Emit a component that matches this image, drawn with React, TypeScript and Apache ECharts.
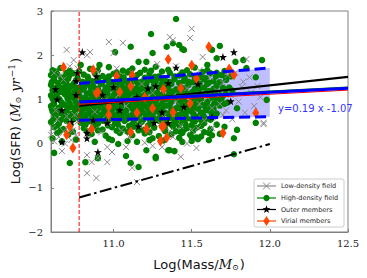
import React, { useEffect, useRef } from 'react';
import * as echarts from 'echarts';

// ---------- data ----------
const lowDensity: [number, number][] = [
  [10.70, 2.12], [10.745, 1.89], [10.85, 2.07], [10.83, 2.0], [10.97, 2.3], [11.06, 2.28], [11.0, 2.05],
  [11.36, 2.41], [11.38, 2.34], [11.49, 2.39], [11.5, 2.6], [11.85, 1.91], [11.87, 1.5], [11.82, 1.28],
  [11.96, 0.44], [11.63, 0.35], [11.63, 0.8], [11.7, 0.65], [11.57, 1.96],
  [10.67, -0.17], [10.83, -0.67], [10.89, -0.78], [10.86, -0.42], [10.9, -0.33], [10.96, -0.42],
  [10.96, -0.08], [10.99, -0.19], [11.08, -0.08], [10.83, -0.26], [11.54, 0.35], [11.53, -0.1],
  [11.47, 0.0], [11.43, -0.3], [11.96, 0.47], [11.31, -0.08], [11.38, 0.15], [11.15, -0.87],
  [11.12, -0.55], [11.25, -0.05], [11.2, 0.02],
  [10.62, 0.05], [10.65, 0.15], [10.68, 0.28], [10.61, 0.35], [10.71, 0.42], [10.74, 0.3], [10.64, 0.55],
  [10.7, 0.62], [10.77, 0.5], [10.63, 0.75], [10.76, 0.2], [10.73, 0.08], [10.66, 1.55], [10.72, 1.75],
  [10.77, 1.7], [10.62, 1.6], [10.68, 1.45], [10.6, 0.2], [10.69, 0.0], [10.75, 0.65],
  [10.84, 0.3], [10.92, 0.25], [10.97, 0.45], [11.05, 0.3], [11.1, 0.15], [11.17, 0.42], [11.22, 0.28],
  [11.3, 0.45], [11.36, 0.28], [11.43, 0.4], [11.5, 0.3], [11.58, 0.52], [10.9, 1.62], [11.02, 1.7],
  [11.12, 1.6], [11.28, 1.8], [11.4, 1.75], [11.55, 1.66], [11.62, 1.5], [11.7, 1.38], [11.75, 1.1],
  [11.8, 0.95], [11.72, 0.75], [11.66, 1.2], [11.78, 1.6], [11.88, 1.15], [11.92, 1.3], [11.84, 0.7],
  [11.9, 0.85], [11.76, 0.55], [11.94, 1.05], [10.95, 1.0], [11.08, 0.85], [11.25, 1.15], [11.4, 0.95],
  [11.55, 0.9], [11.18, 1.35], [11.32, 0.62], [10.88, 0.72], [11.0, 1.25], [11.47, 1.25], [11.6, 1.05],
  [11.68, 0.9], [11.83, 1.4], [11.73, 1.55],
];

const highDensity: [number, number][] = [
  [11.40, 2.82], [11.24, 2.48], [11.11, 2.19], [11.25, 2.05], [11.44, 2.14], [11.38, 2.27], [11.34, 2.19],
  [11.16, 1.85], [11.21, 1.85], [10.79, 1.78], [10.91, 1.78], [11.01, 2.07], [11.68, 2.21], [11.63, 2.12],
  [11.83, 1.89], [11.95, 1.89], [11.85, 1.71], [11.91, 1.5], [11.98, 0.99], [11.79, 0.8], [11.91, 0.47],
  [11.61, 0.24], [11.44, 0.24], [11.66, 1.93], [11.6, 1.78], [11.42, 2.23], [11.45, 2.12], [11.78, 1.85],
  [10.62, -0.21], [10.72, -0.44], [10.82, -0.42], [10.88, 0.04], [10.99, 0.08], [11.08, -0.28],
  [11.03, -0.01], [10.9, -0.33], [11.11, -0.44], [11.16, -0.53], [11.27, -0.33], [11.21, -0.15],
  [11.15, 0.04], [11.23, 0.08], [11.35, -0.15], [11.39, -0.17], [11.44, 0.04], [11.5, 0.06], [11.5, 0.15],
  [11.54, 0.1], [11.58, 0.26], [11.61, 0.08], [11.63, 0.19], [11.77, 0.12], [11.79, 0.31], [11.77, -0.24],
  [11.47, 0.35], [11.4, 0.28], [11.27, -0.3], [11.36, -0.15],
  [10.61, 1.66], [10.66, 1.71], [10.72, 1.64], [10.85, 1.69], [10.97, 1.73], [11.06, 1.65], [11.12, 1.7],
  [11.2, 1.67], [11.27, 1.74], [11.31, 1.63], [11.47, 1.66], [11.52, 1.72], [11.57, 1.62], [11.71, 1.64],
  [10.63, 1.63], [10.7, 1.6], [10.78, 1.64], [10.9, 1.66], [11.02, 1.61], [11.1, 1.64], [11.17, 1.6],
  [11.24, 1.65], [11.35, 1.67], [11.44, 1.61], [11.6, 1.66], [11.66, 1.6],
  [10.6, 1.55], [10.64, 1.58], [10.69, 1.52], [10.74, 1.59], [10.81, 1.56], [10.88, 1.6], [10.93, 1.53],
  [11.0, 1.58], [11.04, 1.52], [11.09, 1.61], [11.15, 1.55], [11.23, 1.58], [11.29, 1.52], [11.36, 1.6],
  [11.42, 1.54], [11.49, 1.57], [11.56, 1.51], [11.62, 1.59], [11.69, 1.55], [11.75, 1.52],
  [10.62, 1.5], [10.665, 1.49], [10.715, 1.53], [10.77, 1.48], [10.835, 1.51], [10.905, 1.49], [10.97, 1.52],
  [11.025, 1.48], [11.065, 1.5], [11.12, 1.52], [11.2, 1.49], [11.265, 1.51], [11.32, 1.47], [11.39, 1.52],
  [11.455, 1.49], [11.52, 1.5], [11.59, 1.48], [11.655, 1.52], [11.72, 1.49],
  [10.62, 1.45], [10.67, 1.41], [10.71, 1.47], [10.76, 1.43], [10.8, 1.4], [10.84, 1.46], [10.9, 1.42],
  [10.95, 1.48], [10.99, 1.39], [11.03, 1.45], [11.08, 1.41], [11.13, 1.47], [11.18, 1.4], [11.24, 1.44],
  [11.3, 1.48], [11.34, 1.41], [11.39, 1.46], [11.45, 1.42], [11.51, 1.39], [11.58, 1.45], [11.64, 1.41],
  [11.72, 1.44],
  [10.605, 1.39], [10.645, 1.37], [10.69, 1.4], [10.745, 1.36], [10.82, 1.38], [10.865, 1.41], [10.925, 1.37],
  [10.97, 1.4], [11.05, 1.38], [11.095, 1.36], [11.15, 1.39], [11.21, 1.37], [11.27, 1.4], [11.31, 1.36],
  [11.36, 1.39], [11.42, 1.37], [11.48, 1.4], [11.55, 1.36], [11.61, 1.38], [11.68, 1.39],
  [10.6, 1.33], [10.65, 1.29], [10.7, 1.35], [10.73, 1.3], [10.79, 1.28], [10.83, 1.34], [10.87, 1.3],
  [10.92, 1.35], [10.97, 1.29], [11.02, 1.33], [11.06, 1.28], [11.11, 1.36], [11.16, 1.31], [11.21, 1.27],
  [11.26, 1.34], [11.32, 1.3], [11.37, 1.35], [11.43, 1.28], [11.48, 1.33], [11.54, 1.29], [11.6, 1.35],
  [11.66, 1.3], [11.74, 1.27],
  [10.625, 1.25], [10.675, 1.27], [10.715, 1.24], [10.765, 1.26], [10.81, 1.25], [10.855, 1.27], [10.9, 1.24],
  [10.95, 1.27], [11.0, 1.25], [11.04, 1.23], [11.09, 1.26], [11.135, 1.24], [11.19, 1.26], [11.24, 1.23],
  [11.29, 1.27], [11.35, 1.25], [11.4, 1.23], [11.46, 1.26], [11.52, 1.24], [11.58, 1.27], [11.64, 1.24],
  [11.7, 1.26],
  [10.61, 1.21], [10.66, 1.17], [10.7, 1.23], [10.75, 1.18], [10.8, 1.22], [10.85, 1.16], [10.89, 1.21],
  [10.94, 1.18], [10.98, 1.24], [11.03, 1.17], [11.07, 1.21], [11.12, 1.16], [11.17, 1.22], [11.22, 1.19],
  [11.28, 1.15], [11.33, 1.23], [11.38, 1.18], [11.44, 1.21], [11.5, 1.16], [11.55, 1.23], [11.61, 1.19],
  [11.67, 1.15], [11.76, 1.2],
  [10.635, 1.13], [10.68, 1.15], [10.72, 1.12], [10.77, 1.14], [10.83, 1.13], [10.86, 1.11], [10.915, 1.15],
  [10.96, 1.13], [11.01, 1.14], [11.06, 1.12], [11.1, 1.15], [11.155, 1.13], [11.205, 1.12], [11.265, 1.14],
  [11.31, 1.11], [11.36, 1.14], [11.42, 1.12], [11.47, 1.13], [11.53, 1.11], [11.59, 1.14], [11.645, 1.12],
  [11.72, 1.13],
  [10.6, 1.09], [10.64, 1.05], [10.69, 1.11], [10.73, 1.06], [10.78, 1.1], [10.82, 1.04], [10.87, 1.09],
  [10.91, 1.12], [10.96, 1.05], [11.0, 1.1], [11.05, 1.06], [11.1, 1.11], [11.14, 1.04], [11.19, 1.08],
  [11.25, 1.12], [11.3, 1.05], [11.35, 1.09], [11.41, 1.04], [11.46, 1.1], [11.52, 1.06], [11.58, 1.11],
  [11.64, 1.05], [11.7, 1.08],
  [10.61, 1.02], [10.655, 1.0], [10.705, 1.03], [10.75, 1.01], [10.795, 1.03], [10.855, 1.01], [10.9, 1.03],
  [10.945, 1.0], [10.99, 1.02], [11.035, 1.01], [11.085, 1.03], [11.13, 1.0], [11.18, 1.02], [11.235, 1.0],
  [11.285, 1.02], [11.34, 1.01], [11.395, 1.03], [11.45, 1.0], [11.505, 1.02], [11.56, 1.01], [11.62, 1.03],
  [11.69, 1.01],
  [10.62, 0.97], [10.67, 0.93], [10.71, 0.99], [10.76, 0.94], [10.8, 0.98], [10.84, 0.92], [10.88, 0.97],
  [10.93, 0.94], [10.97, 1.0], [11.02, 0.93], [11.07, 0.98], [11.12, 0.95], [11.16, 0.91], [11.21, 0.98],
  [11.27, 0.93], [11.32, 0.99], [11.37, 0.94], [11.43, 0.97], [11.48, 0.92], [11.54, 0.98], [11.6, 0.94],
  [11.67, 0.99], [11.73, 0.93],
  [10.62, 0.9], [10.67, 0.89], [10.72, 0.91], [10.77, 0.89], [10.815, 0.91], [10.86, 0.88], [10.905, 0.9],
  [10.95, 0.92], [11.0, 0.89], [11.045, 0.91], [11.09, 0.89], [11.135, 0.92], [11.185, 0.89], [11.235, 0.91],
  [11.26, 0.9], [11.31, 0.9], [11.36, 0.88], [11.42, 0.91], [11.47, 0.89], [11.525, 0.9], [11.585, 0.88],
  [11.645, 0.91], [11.71, 0.9],
  [10.6, 0.85], [10.65, 0.81], [10.69, 0.87], [10.74, 0.82], [10.79, 0.86], [10.83, 0.8], [10.88, 0.85],
  [10.92, 0.88], [10.96, 0.81], [11.01, 0.86], [11.05, 0.82], [11.1, 0.87], [11.15, 0.8], [11.2, 0.85],
  [11.24, 0.88], [11.29, 0.82], [11.34, 0.86], [11.4, 0.8], [11.45, 0.85], [11.51, 0.81], [11.57, 0.87],
  [11.62, 0.82], [11.68, 0.86],
  [10.605, 0.79], [10.645, 0.77], [10.71, 0.8], [10.76, 0.77], [10.81, 0.79], [10.86, 0.76], [10.9, 0.79],
  [10.94, 0.77], [10.98, 0.8], [11.03, 0.78], [11.07, 0.76], [11.12, 0.79], [11.17, 0.77], [11.22, 0.8],
  [11.265, 0.77], [11.31, 0.79], [11.37, 0.77], [11.42, 0.8], [11.47, 0.77], [11.54, 0.79], [11.59, 0.76],
  [11.64, 0.79],
  [10.61, 0.73], [10.66, 0.69], [10.7, 0.75], [10.75, 0.7], [10.8, 0.74], [10.85, 0.68], [10.89, 0.73],
  [10.94, 0.7], [10.99, 0.76], [11.03, 0.69], [11.08, 0.74], [11.13, 0.7], [11.18, 0.75], [11.23, 0.68],
  [11.28, 0.73], [11.33, 0.7], [11.39, 0.76], [11.44, 0.69], [11.49, 0.74], [11.56, 0.7], [11.61, 0.75],
  [11.66, 0.68],
  [10.625, 0.66], [10.685, 0.64], [10.73, 0.67], [10.79, 0.65], [10.835, 0.67], [10.875, 0.64], [10.925, 0.66],
  [10.975, 0.68], [11.02, 0.65], [11.065, 0.67], [11.115, 0.64], [11.165, 0.66], [11.2, 0.68], [11.25, 0.64],
  [11.3, 0.66], [11.35, 0.67], [11.41, 0.64], [11.46, 0.66], [11.51, 0.68], [11.575, 0.64], [11.63, 0.66],
  [10.63, 0.61], [10.68, 0.57], [10.72, 0.63], [10.77, 0.58], [10.82, 0.62], [10.86, 0.56], [10.91, 0.61],
  [10.96, 0.58], [11.0, 0.64], [11.05, 0.57], [11.1, 0.62], [11.15, 0.58], [11.21, 0.63], [11.26, 0.56],
  [11.31, 0.61], [11.36, 0.58], [11.42, 0.64], [11.47, 0.57], [11.53, 0.61], [11.59, 0.56], [11.65, 0.62],
  [10.615, 0.54], [10.66, 0.53], [10.745, 0.55], [10.8, 0.53], [10.88, 0.54], [10.93, 0.52], [10.98, 0.55],
  [11.03, 0.53], [11.085, 0.55], [11.13, 0.52], [11.19, 0.54], [11.235, 0.52], [11.28, 0.55], [11.33, 0.53],
  [11.39, 0.54], [11.44, 0.52], [11.5, 0.55], [11.56, 0.53], [11.62, 0.54],
  [10.6, 0.49], [10.65, 0.45], [10.7, 0.51], [10.79, 0.47], [10.84, 0.5], [10.9, 0.45], [10.95, 0.5],
  [11.01, 0.46], [11.07, 0.51], [11.12, 0.44], [11.18, 0.49], [11.24, 0.46], [11.29, 0.52], [11.34, 0.45],
  [11.4, 0.49], [11.46, 0.44], [11.52, 0.5], [11.58, 0.46], [11.66, 0.43],
  [10.64, 0.41], [10.725, 0.43], [10.82, 0.42], [10.88, 0.43], [10.965, 0.41], [11.03, 0.42], [11.1, 0.4],
  [11.16, 0.43], [11.22, 0.41], [11.31, 0.4], [11.37, 0.43], [11.42, 0.41], [11.5, 0.42], [11.56, 0.4],
  [10.62, 0.37], [10.68, 0.33], [10.81, 0.35], [10.87, 0.39], [10.93, 0.32], [10.99, 0.37], [11.06, 0.34],
  [11.13, 0.38], [11.19, 0.31], [11.26, 0.36], [11.33, 0.33], [11.38, 0.39], [11.45, 0.31], [11.53, 0.36],
  [11.62, 0.33], [11.71, 0.38],
  [10.66, 0.29], [10.74, 0.27], [10.83, 0.28], [10.9, 0.3], [11.02, 0.29], [11.09, 0.27], [11.16, 0.3],
  [11.23, 0.26], [11.33, 0.28], [11.43, 0.26], [11.51, 0.29],
  [10.64, 0.24], [10.71, 0.2], [10.86, 0.22], [10.95, 0.18], [11.04, 0.24], [11.12, 0.19], [11.2, 0.23],
  [11.29, 0.17], [11.37, 0.21], [11.49, 0.2], [11.56, 0.16], [11.68, 0.22],
  [10.61, 0.12], [10.67, 0.05], [10.76, 0.09], [10.97, 0.11], [11.09, 0.06], [11.25, 0.12], [11.32, 0.07],
  [11.42, 0.13], [11.53, 0.14],
];

const outerMembers: [number, number][] = [
  [10.8, 2.07], [10.63, 1.23], [10.64, 1.0], [10.67, 0.76], [10.76, 1.1], [10.77, 1.6], [10.76, 1.42],
  [10.73, 0.49], [10.67, 0.04], [10.83, 0.24], [10.83, 0.12], [10.9, -0.19], [10.89, 1.52], [11.0, 1.28],
  [11.04, 0.76], [11.15, 1.05], [11.27, 1.3], [11.4, 1.72], [11.35, 0.47], [11.26, 0.47], [11.16, 0.39],
  [10.96, 0.47], [10.87, 0.53], [11.7, 1.96], [11.77, 2.07], [11.54, 1.35], [11.75, 0.96], [11.45, 0.83],
  [11.63, 0.6], [11.35, 1.37], [11.31, 0.71], [10.93, 1.1], [11.22, 1.25], [11.05, 0.95],
];

const virialMembers: [number, number][] = [
  [10.68, 1.73], [10.87, 1.67], [11.12, 1.55], [11.35, 1.91], [11.5, 1.77], [10.89, 1.14], [11.11, 1.3],
  [11.32, 1.23], [11.49, 0.91], [10.97, 0.65], [11.11, 0.26], [11.32, 0.4], [10.72, 0.38], [10.7, 0.2],
  [11.43, 1.25], [11.61, 2.19], [11.74, 1.69], [11.77, 1.55], [11.53, 1.48], [11.91, 0.69], [11.7, 0.24],
  [11.38, 0.71], [10.74, -0.1], [10.86, 0.33], [11.21, 0.33], [11.3, 0.06], [11.31, 0.38], [11.34, 0.13],
  [11.02, 1.53], [10.9, 1.17], [10.97, 0.83], [11.04, 1.17], [11.2, 1.05], [11.25, 0.8], [11.15, 0.7],
];

const massCut = 10.78;
const blackFit: [number, number][] = [[10.78, 0.85], [12.5, 1.51]];
const blueFit: [number, number][] = [[10.78, 0.94], [12.5, 1.25]];
const greenFit: [number, number][] = [[10.78, 0.97], [12.5, 1.28]];
const redFit: [number, number][] = [[10.78, 0.89], [12.5, 1.21]];
const dashDotLine: [number, number][] = [[10.78, -1.22], [12.0, -0.01]];
const bandX = [10.78, 12.0];
const bandLow = [0.53, 0.61];
const bandHigh = [1.36, 1.71];
const xTicks = [11.0, 11.5, 12.0, 12.5];
const fitText = 'y=0.19 x -1.07';
const legendLabels = ['Low-density field', 'High-density field', 'Outer members', 'Virial members'];

// ---------- styles ----------
const STAR = 'path://M50,0 L61.8,35.4 L97.6,34.5 L69.1,56.5 L79.4,90.5 L50,70 L20.6,90.5 L30.9,56.5 L2.4,34.5 L38.2,35.4 Z';
const CROSS = 'path://M0,0L10,10M10,0L0,10';
const DIAMOND = 'path://M5,0L10,10L5,20L0,10Z';
const GRAY = '#8a8a8a';
const GREEN = '#008000';
const ORANGE = '#ff4500';

function lineSeries(data: [number, number][], color: string, width: number, type: any = 'solid') {
  return {
    type: 'line', data, symbol: 'none', silent: true,
    lineStyle: { color, width, type },
  };
}

function buildLegend() {
  const x0 = 254, y0 = 179, w = 90, h = 48;
  const rows = [186, 198, 209.5, 221];
  const colors = [GRAY, GREEN, '#000', ORANGE];
  const children: any[] = [
    { type: 'rect', shape: { x: x0, y: y0, width: w, height: h, r: 2 }, style: { fill: 'rgba(255,255,255,0.85)', stroke: '#cccccc', lineWidth: 1 } },
  ];
  rows.forEach((cy, i) => {
    children.push({ type: 'line', shape: { x1: 257, y1: cy, x2: 276, y2: cy }, style: { stroke: colors[i], lineWidth: 1.2 } });
    const cx = 266.5;
    if (i === 0) {
      children.push({ type: 'line', shape: { x1: cx - 3.5, y1: cy - 3.5, x2: cx + 3.5, y2: cy + 3.5 }, style: { stroke: GRAY, lineWidth: 1 } });
      children.push({ type: 'line', shape: { x1: cx - 3.5, y1: cy + 3.5, x2: cx + 3.5, y2: cy - 3.5 }, style: { stroke: GRAY, lineWidth: 1 } });
    } else if (i === 1) {
      children.push({ type: 'circle', shape: { cx, cy, r: 3.2 }, style: { fill: GREEN } });
    } else if (i === 2) {
      const pts: number[][] = [];
      for (let k = 0; k < 10; k++) {
        const a = -Math.PI / 2 + (k * Math.PI) / 5;
        const r = k % 2 === 0 ? 4.2 : 1.7;
        pts.push([cx + r * Math.cos(a), cy + r * Math.sin(a)]);
      }
      children.push({ type: 'polygon', shape: { points: pts }, style: { fill: '#000' } });
    } else {
      children.push({ type: 'polygon', shape: { points: [[cx, cy - 5], [cx + 3.2, cy], [cx, cy + 5], [cx - 3.2, cy]] }, style: { fill: ORANGE } });
    }
    children.push({ type: 'text', x: 281, y: cy, style: { text: legendLabels[i], fontSize: 6.5, fontFamily: 'DejaVu Sans', fill: '#262626', verticalAlign: 'middle', align: 'left' } });
  });
  return { type: 'group', children };
}

export default function App() {
  const ref = useRef<HTMLDivElement>(null);
  useEffect(() => {
    const chart = echarts.init(ref.current!, null, { renderer: 'svg' });
    const axisColor = '#808080';
    const option: any = {
      animation: false,
      grid: { left: 51, right: 19, top: 11, bottom: 46, show: true, borderColor: axisColor, borderWidth: 1, backgroundColor: 'transparent' },
      xAxis: {
        type: 'value', min: 10.6, max: 12.5,
        axisLine: { show: true, onZero: false, lineStyle: { color: axisColor, width: 1 } },
        axisTick: { show: true, inside: true, length: 3, customValues: xTicks, lineStyle: { color: axisColor } },
        axisLabel: { customValues: xTicks, margin: 6, fontSize: 10, fontFamily: 'DejaVu Serif', color: '#222', formatter: (v: number) => v.toFixed(1) },
        splitLine: { show: false },
      },
      yAxis: {
        type: 'value', min: -2, max: 3, interval: 1,
        axisLine: { show: true, onZero: false, lineStyle: { color: axisColor, width: 1 } },
        axisTick: { show: true, inside: true, length: 3, lineStyle: { color: axisColor } },
        axisLabel: { margin: 8, fontSize: 10, fontFamily: 'DejaVu Serif', color: '#222', formatter: (v: number) => (v < 0 ? '\u2212' + Math.abs(v) : String(v)) },
        splitLine: { show: false },
      },
      series: [
        { type: 'scatter', name: legendLabels[1], data: highDensity, symbol: 'circle', symbolSize: 6.5, itemStyle: { color: GREEN, opacity: 1 } },
        { type: 'scatter', name: legendLabels[0], data: lowDensity, symbol: CROSS, symbolSize: 6, itemStyle: { color: 'transparent', borderColor: GRAY, borderWidth: 1, opacity: 1 } },
        { type: 'scatter', name: legendLabels[2], data: outerMembers, symbol: STAR, symbolSize: 8, itemStyle: { color: '#000', opacity: 1 } },
        { type: 'scatter', name: legendLabels[3], data: virialMembers, symbol: DIAMOND, symbolSize: [7, 11], itemStyle: { color: ORANGE, opacity: 1 } },
        lineSeries(blackFit, '#000', 2.2),
        lineSeries(greenFit, GREEN, 1),
        lineSeries(redFit, '#ff0000', 1),
        lineSeries(blueFit, '#0000ff', 3),
        lineSeries(dashDotLine, '#000', 2, [12, 3.5, 2.5, 3.5]),
        lineSeries([[massCut, -2], [massCut, 3]], '#ff0000', 1, [4, 2]),
        {
          type: 'custom', silent: true,
          data: [[bandX[0], bandLow[0]]],
          renderItem: (_p: any, api: any) => {
            const up = bandX.map((x, i) => api.coord([x, bandHigh[i]]));
            const lo = bandX.map((x, i) => api.coord([x, bandLow[i]])).reverse();
            return { type: 'polygon', shape: { points: up.concat(lo) }, style: { fill: 'rgba(0,0,255,0.25)' } };
          },
        },
        lineSeries(bandX.map((x, i) => [x, bandHigh[i]]) as [number, number][], '#0000ff', 3, [11, 5]),
        lineSeries(bandX.map((x, i) => [x, bandLow[i]]) as [number, number][], '#0000ff', 3, [11, 5]),
      ],
      graphic: [
        { type: 'text', x: 278, y: 108, style: { text: fitText, fontSize: 10, fontFamily: 'DejaVu Sans', fill: '#3333ff', verticalAlign: 'middle', align: 'left' } },
        {
          type: 'text', x: 199, y: 264,
          style: {
            text: '{a|Log(Mass/}{m|M}{s|\u2299}{a|)}', align: 'center', verticalAlign: 'middle',
            rich: {
              a: { fontSize: 13, fontFamily: 'DejaVu Sans', fill: '#111' },
              m: { fontSize: 13, fontFamily: 'DejaVu Serif', fontStyle: 'italic', fill: '#111' },
              s: { fontSize: 8, fontFamily: 'DejaVu Serif', fill: '#111', padding: [6, 1, 0, 0] },
            },
          },
        },
        {
          type: 'text', x: 15, y: 121, rotation: Math.PI / 2,
          style: {
            text: '{a|Log(SFR) }{p|(}{m|M}{s|\u2299}{m| yr}{u|\u22121}{p|)}', align: 'center', verticalAlign: 'middle',
            rich: {
              a: { fontSize: 13, fontFamily: 'DejaVu Sans', fill: '#111' },
              p: { fontSize: 13, fontFamily: 'DejaVu Serif', fill: '#111' },
              m: { fontSize: 13, fontFamily: 'DejaVu Serif', fontStyle: 'italic', fill: '#111' },
              s: { fontSize: 8, fontFamily: 'DejaVu Serif', fill: '#111', padding: [6, 1, 0, 0] },
              u: { fontSize: 9, fontFamily: 'DejaVu Serif', fill: '#111', padding: [0, 1, 7, 1] },
            },
          },
        },
        buildLegend(),
      ],
    };
    chart.setOption(option);
    return () => chart.dispose();
  }, []);
  return <div ref={ref} style={{ width: 367, height: 278, position: 'absolute', left: 0, top: 0 }} />;
}
